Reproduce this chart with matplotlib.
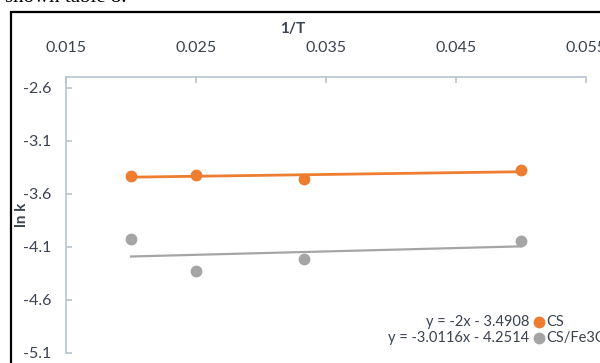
import numpy as np
import matplotlib.pyplot as plt
from matplotlib.patches import Rectangle
from matplotlib.lines import Line2D

plt.rcParams['font.family'] = ['Lato', 'DejaVu Sans']

# 1/T values and ln k for the two samples
inv_t = [0.020, 0.025, 0.0333, 0.050]
ln_k_cs = [-3.433, -3.421, -3.461, -3.377]
ln_k_cs_fe = [-4.026, -4.332, -4.210, -4.042]
series_names = ['CS', 'CS/Fe3O4']
fit_labels = ['y = -2x - 3.4908', 'y = -3.0116x - 4.2514']
x_ticks = [0.015, 0.025, 0.035, 0.045, 0.055]
y_ticks = [-5.1, -4.6, -4.1, -3.6, -3.1, -2.6]

orange = '#ED7D31'
grey = '#A5A5A5'
text_col = '#3B4250'
axis_col = '#B9C3D0'

W, H = 600, 363
fig = plt.figure(figsize=(W / 100, H / 100), dpi=100)

# clipped caption line from the surrounding page
fig.text(5 / W, 1 - 1.5 / H, 'shown table 8.', family='Liberation Serif',
         fontsize=15, color='black', va='baseline', ha='left')

# outer frame around the chart
fig.patches.append(Rectangle((11 / W, -0.1), 1.2, 1 - 12 / H + 0.1,
                             transform=fig.transFigure, fill=False,
                             edgecolor='black', linewidth=1.6))

ax = fig.add_axes([66 / W, 10 / H, (586 - 66) / W, (353 - 77) / H])

for y, col, lw in [(ln_k_cs, orange, 2.0), (ln_k_cs_fe, grey, 1.6)]:
    ax.plot(inv_t, y, 'o', color=col, markersize=7.5, zorder=3)
    slope, icpt = np.polyfit(inv_t, y, 1)
    xs = np.array([min(inv_t), max(inv_t)])
    ax.plot(xs, slope * xs + icpt, '-', color=col, linewidth=lw, zorder=2)

ax.set_xlim(0.015, 0.055)
ax.set_ylim(-5.1, -2.5)
ax.set_xticks(x_ticks)
ax.set_xticklabels([f'{v:.3f}' for v in x_ticks])
ax.set_yticks(y_ticks)
ax.set_yticklabels([f'{v:.1f}' for v in y_ticks])
ax.xaxis.tick_top()
ax.xaxis.set_label_position('top')

for side in ['right', 'bottom']:
    ax.spines[side].set_visible(False)
for side in ['left', 'top']:
    ax.spines[side].set_color(axis_col)
    ax.spines[side].set_linewidth(1.2)

ax.tick_params(axis='x', direction='in', length=4, width=1.2, color=axis_col,
               pad=16, labelsize=11.5, labelcolor=text_col)
ax.tick_params(axis='y', direction='in', length=4, width=1.2, color=axis_col,
               pad=10.5, labelsize=11.5, labelcolor=text_col)

ax.set_xlabel('1/T', fontsize=11, fontweight='bold', color=text_col)
ax.xaxis.set_label_coords((293 - 66) / (586 - 66), (77 - 33) / (353 - 77) + 1)
ax.set_ylabel('ln k', fontsize=11, fontweight='bold', color=text_col)
ax.yaxis.set_label_coords(-(66 - 29) / (586 - 66), 0.5)

# trendline equations with series keys
for i, (lab, name, col) in enumerate(zip(fit_labels, series_names,
                                         [orange, grey])):
    yf = 1 - (322 + 16 * i) / H
    fig.text(529 / W, yf, lab, ha='right', va='center', fontsize=10.5,
             color=text_col)
    fig.add_artist(Line2D([539 / W], [yf], marker='o', color=col,
                          markersize=7.5, transform=fig.transFigure))
    fig.text(546 / W, yf, name, ha='left', va='center', fontsize=10.5,
             color=text_col)

fig.savefig('out.png', dpi=100)
